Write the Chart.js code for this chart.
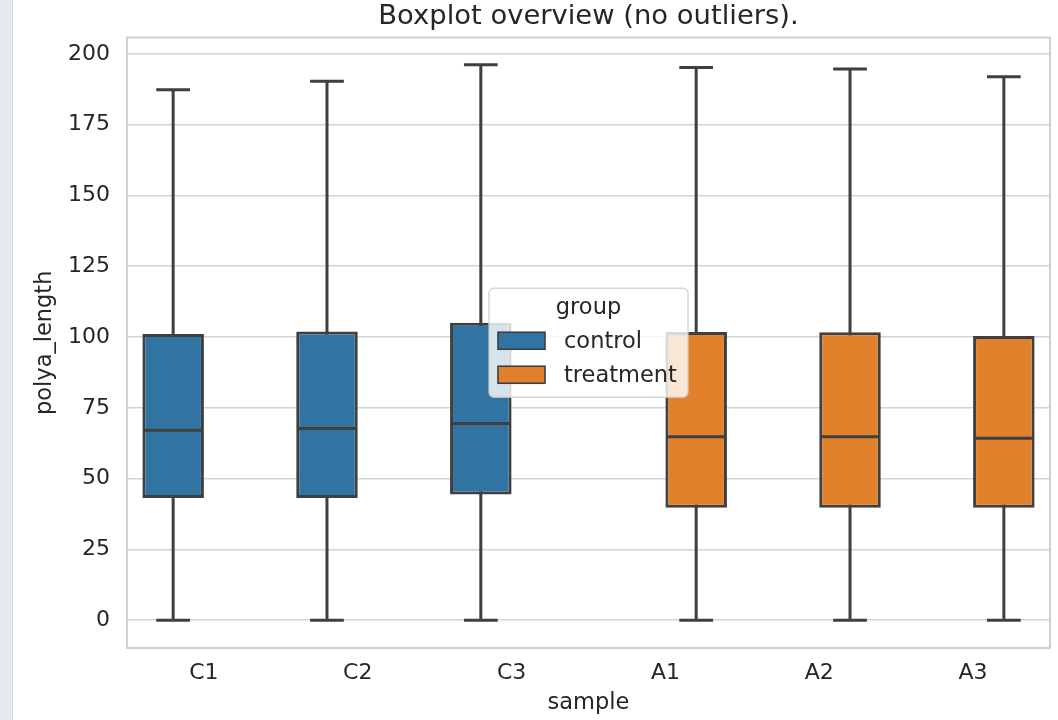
<!DOCTYPE html>
<html><head><meta charset="utf-8">
<script src="https://cdn.jsdelivr.net/npm/chart.js@4.4.1/dist/chart.umd.min.js"></script>
<style>
html,body{margin:0;padding:0;background:#fff;}
#wrap{position:relative;width:1058px;height:720px;overflow:hidden;background:#fff;}
#strip{position:absolute;left:0;top:0;width:12px;height:720px;background:#e4eaf0;border-right:1px solid #d3d9df;}
canvas{position:absolute;left:0;top:0;}
</style></head><body>
<div id="wrap"><div id="strip"></div><canvas id="c" width="1058" height="720"></canvas></div>
<script>
// ---- data ----
const samples = ['C1', 'C2', 'C3', 'A1', 'A2', 'A3'];
const groups = ['control', 'treatment'];
const sampleGroup = ['control', 'control', 'control', 'treatment', 'treatment', 'treatment'];
const whiskerLow = [0, 0, 0, 0, 0, 0];
const q1 = [43.2, 43.2, 44.4, 39.7, 39.7, 39.7];
const median = [67.1, 67.7, 69.5, 64.8, 64.8, 64.3];
const q3 = [101.1, 102.0, 105.1, 101.8, 101.7, 100.4];
const whiskerHigh = [187.3, 190.3, 196.2, 195.2, 194.7, 191.9];
const yTicks = [0, 25, 50, 75, 100, 125, 150, 175, 200];
const yMin = -9.8, yMax = 205.8;

// ---- styles ----
const groupColors = ['#3274a1', '#e1812c'];
const FONT = 'DejaVu Sans';
const TEXT = '#262626';
const EDGE = '#3f3f3f';
const GRID = '#d4d4d4';

const datasets = groups.map((g, gi) => ({
  label: g,
  data: samples.map((s, i) => sampleGroup[i] === g ? [q1[i], q3[i]] : null),
  backgroundColor: groupColors[gi],
  borderColor: EDGE,
  borderWidth: 3,
  borderSkipped: false,
  categoryPercentage: 0.8,
  barPercentage: 1.0
}));

function eachBox(chart, fn) {
  chart.data.datasets.forEach((ds, di) => {
    const meta = chart.getDatasetMeta(di);
    meta.data.forEach((el, i) => {
      if (ds.data[i] == null) return;
      fn(el, i);
    });
  });
}

const framePlugin = {
  id: 'frame',
  beforeDatasetsDraw(chart) {
    const {ctx, chartArea: a} = chart;
    ctx.save();
    ctx.strokeStyle = '#d0d0d0';
    ctx.lineWidth = 2;
    ctx.strokeRect(a.left, a.top, a.right - a.left, a.bottom - a.top);
    ctx.restore();
  }
};

const boxPlugin = {
  id: 'boxParts',
  beforeDatasetsDraw(chart) {
    const {ctx} = chart;
    const y = chart.scales.y;
    ctx.save();
    ctx.strokeStyle = EDGE;
    ctx.lineWidth = 3;
    ctx.lineCap = 'square';
    eachBox(chart, (el, i) => {
      const x = el.x, w = el.width;
      const yl = y.getPixelForValue(whiskerLow[i]);
      const yh = y.getPixelForValue(whiskerHigh[i]);
      ctx.beginPath();
      ctx.moveTo(x, yl); ctx.lineTo(x, yh);
      ctx.moveTo(x - w / 4, yl); ctx.lineTo(x + w / 4, yl);
      ctx.moveTo(x - w / 4, yh); ctx.lineTo(x + w / 4, yh);
      ctx.stroke();
    });
    ctx.restore();
  },
  afterDatasetsDraw(chart) {
    const {ctx} = chart;
    const y = chart.scales.y;
    ctx.save();
    ctx.strokeStyle = EDGE;
    ctx.lineWidth = 3;
    ctx.lineCap = 'butt';
    eachBox(chart, (el, i) => {
      const x = el.x, w = el.width;
      const ym = y.getPixelForValue(median[i]);
      ctx.beginPath();
      ctx.moveTo(x - w / 2 + 1.5, ym); ctx.lineTo(x + w / 2 - 1.5, ym);
      ctx.stroke();
    });
    ctx.restore();
  }
};

const legendPlugin = {
  id: 'boxLegend',
  afterDraw(chart) {
    const {ctx, chartArea: a} = chart;
    const W = 199, H = 109;
    const cx = (a.left + a.right) / 2, cy = (a.top + a.bottom) / 2;
    const x0 = cx - W / 2, y0 = cy - H / 2;
    ctx.save();
    ctx.beginPath();
    ctx.roundRect(x0, y0, W, H, 5);
    ctx.fillStyle = 'rgba(255,255,255,0.8)';
    ctx.fill();
    ctx.strokeStyle = 'rgba(204,204,204,0.8)';
    ctx.lineWidth = 1.5;
    ctx.stroke();
    ctx.fillStyle = TEXT;
    ctx.font = '22.5px "' + FONT + '"';
    ctx.textBaseline = 'middle';
    ctx.textAlign = 'center';
    ctx.fillText('group', cx, y0 + 20);
    ctx.textAlign = 'left';
    groups.forEach((g, gi) => {
      const yc = y0 + 52.5 + gi * 34;
      ctx.fillStyle = groupColors[gi];
      ctx.fillRect(x0 + 9, yc - 8.5, 47, 17);
      ctx.strokeStyle = EDGE;
      ctx.lineWidth = 1.6;
      ctx.strokeRect(x0 + 9, yc - 8.5, 47, 17);
      ctx.fillStyle = TEXT;
      ctx.fillText(g, x0 + 75, yc + 1);
    });
    ctx.restore();
  }
};

new Chart(document.getElementById('c'), {
  type: 'bar',
  data: { labels: samples, datasets },
  options: {
    responsive: false,
    animation: false,
    events: [],
    layout: { padding: { left: 13, right: 8, top: 0, bottom: 0 } },
    plugins: {
      legend: { display: false },
      tooltip: { enabled: false },
      title: {
        display: true,
        text: 'Boxplot overview (no outliers).',
        fullSize: false,
        color: TEXT,
        font: { family: FONT, size: 27.4, weight: 'normal' },
        padding: { top: 0, bottom: 4.6 }
      }
    },
    scales: {
      x: {
        type: 'category',
        grid: { display: false, drawTicks: false },
        border: { display: false },
        ticks: { color: TEXT, font: { family: FONT, size: 22 }, padding: 12 },
        title: { display: true, text: 'sample', color: TEXT, font: { family: FONT, size: 22.5 }, padding: { top: 0, bottom: 3 } },
        afterFit(s) { s.height = 72; }
      },
      y: {
        min: yMin, max: yMax,
        afterBuildTicks(s) { s.ticks = yTicks.map(v => ({ value: v })); },
        grid: { color: GRID, lineWidth: 1.6, drawTicks: false },
        border: { display: false },
        ticks: { color: TEXT, font: { family: FONT, size: 22 }, padding: 17 },
        title: { display: true, text: 'polya_length', color: TEXT, font: { family: FONT, size: 22.5 }, padding: { top: 19, bottom: 0 } },
        afterFit(s) { s.width = 114; }
      }
    }
  },
  plugins: [framePlugin, boxPlugin, legendPlugin]
});
</script>
</body></html>
